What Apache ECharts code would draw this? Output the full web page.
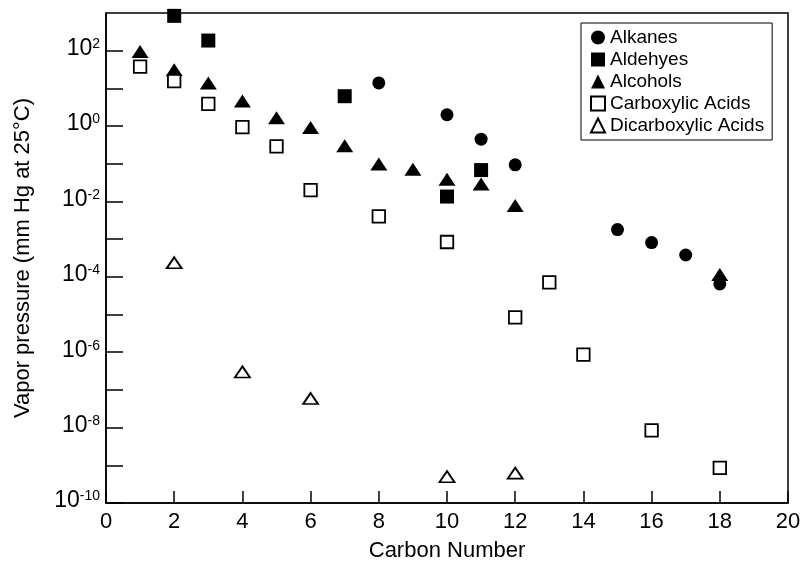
<!DOCTYPE html>
<html>
<head>
<meta charset="utf-8">
<script src="https://cdn.jsdelivr.net/npm/echarts@6/dist/echarts.min.js"></script>
<style>
  html, body { margin: 0; padding: 0; background: #fff; }
  #chart { width: 805px; height: 567px; }
</style>
</head>
<body>
<div id="chart"></div>
<script>
// carbon numbers and vapor pressures (mm Hg at 25°C)
const alkaneC = [8, 10, 11, 12, 15, 16, 17, 18];
const alkaneVP = [14, 2.0, 0.45, 0.094, 1.8e-3, 8.1e-4, 3.8e-4, 6.5e-5];

const aldehydeC = [2, 3, 7, 10, 11];
const aldehydeVP = [840, 186, 6.2, 0.0135, 0.068];

const alcoholC = [1, 2, 3, 4, 5, 6, 7, 8, 9, 10, 11, 12, 18];
const alcoholVP = [95, 31, 14, 4.6, 1.67, 0.91, 0.30, 0.098, 0.072, 0.039, 0.029, 0.0078, 1.16e-4];

const carboxylicC = [1, 2, 3, 4, 5, 6, 8, 10, 12, 13, 14, 16, 18];
const carboxylicVP = [38, 15.5, 3.9, 0.94, 0.29, 0.020, 0.0040, 8.4e-4, 8.4e-6, 7.1e-5, 8.6e-7, 8.5e-9, 8.5e-10];

const dicarboxylicC = [2, 4, 6, 10, 12];
const dicarboxylicVP = [2.36e-4, 3.0e-7, 5.9e-8, 5.0e-10, 6.2e-10];

// y axis decades: 10^-10 .. 10^3, labels on even exponents
const yMinExp = -10;
const yMaxExp = 3;

const font = "'Liberation Sans', Arial, Helvetica, sans-serif";

// the y axis is linear in log10(pressure), one tick per decade
const pairs = (xs, ys) => xs.map((x, i) => [x, Math.log10(ys[i])]);

const filled = { color: '#000', opacity: 1 };
const open = { color: '#fff', borderColor: '#000', borderWidth: 1.8, opacity: 1 };

const chart = echarts.init(document.getElementById('chart'));

chart.setOption({
  backgroundColor: '#fff',
  animation: false,
  textStyle: { fontFamily: font, color: '#000' },
  grid: {
    left: 106, right: 17, top: 13, bottom: 61,
    show: true, borderColor: '#000', borderWidth: 1.5,
  },
  legend: {
    orient: 'vertical',
    left: 581,
    top: 23,
    padding: [5, 8, 5, 9],
    itemGap: 3,
    itemWidth: 14,
    itemHeight: 14,
    borderColor: '#000',
    borderWidth: 1,
    backgroundColor: '#fff',
    textStyle: { fontFamily: font, fontSize: 19, color: '#000', lineHeight: 19 },
    data: [
      { name: 'Alkanes', icon: 'circle' },
      { name: 'Aldehyes', icon: 'rect' },
      { name: 'Alcohols', icon: 'triangle' },
      { name: 'Carboxylic Acids', icon: 'rect' },
      { name: 'Dicarboxylic Acids', icon: 'triangle' },
    ],
  },
  xAxis: {
    type: 'value',
    min: 0,
    max: 20,
    interval: 2,
    name: 'Carbon Number',
    nameLocation: 'middle',
    nameGap: 37,
    nameTextStyle: { fontFamily: font, fontSize: 22, color: '#000' },
    axisLine: { onZero: false, lineStyle: { color: '#000', width: 1.5 } },
    axisTick: { inside: true, length: 12, lineStyle: { color: '#000', width: 1.5 } },
    axisLabel: { margin: 8, fontFamily: font, fontSize: 22, color: '#000' },
    splitLine: { show: false },
  },
  yAxis: {
    type: 'value',
    min: yMinExp,
    max: yMaxExp,
    interval: 1,
    name: 'Vapor pressure (mm Hg at 25°C)',
    nameLocation: 'middle',
    nameGap: 72,
    nameTextStyle: { fontFamily: font, fontSize: 22, color: '#000' },
    axisLine: { onZero: false, lineStyle: { color: '#000', width: 1.5 } },
    axisTick: { inside: true, length: 17, lineStyle: { color: '#000', width: 1.5 } },
    axisLabel: {
      margin: 6,
      padding: [0, 0, 4, 0],
      showMaxLabel: false,
      formatter: (v) => {
        const e = Math.round(v);
        if (e % 2 !== 0) return '';
        return '{b|10}{s|' + e + '}';
      },
      rich: {
        b: { fontFamily: font, fontSize: 23, color: '#000', verticalAlign: 'bottom' },
        s: { fontFamily: font, fontSize: 14, color: '#000', verticalAlign: 'bottom', padding: [0, 0, 9, 0] },
      },
    },
    splitLine: { show: false },
  },
  series: [
    {
      name: 'Alkanes', type: 'scatter', symbol: 'circle', symbolSize: 13,
      itemStyle: filled, data: pairs(alkaneC, alkaneVP),
    },
    {
      name: 'Aldehyes', type: 'scatter', symbol: 'rect', symbolSize: 14,
      itemStyle: filled, data: pairs(aldehydeC, aldehydeVP),
    },
    {
      name: 'Alcohols', type: 'scatter', symbol: 'triangle', symbolSize: [17, 13],
      itemStyle: filled, data: pairs(alcoholC, alcoholVP),
    },
    {
      name: 'Carboxylic Acids', type: 'scatter', symbol: 'rect', symbolSize: 12.5,
      itemStyle: open, data: pairs(carboxylicC, carboxylicVP),
    },
    {
      name: 'Dicarboxylic Acids', type: 'scatter', symbol: 'triangle', symbolSize: [15, 11],
      itemStyle: open, data: pairs(dicarboxylicC, dicarboxylicVP),
    },
  ],
});
</script>
</body>
</html>
